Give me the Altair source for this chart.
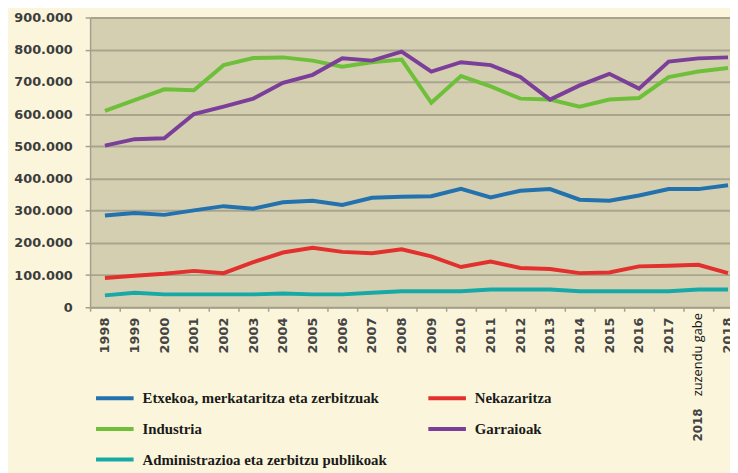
import json
import altair as alt
import pandas as pd

# ---- data ----
years = ["1998", "1999", "2000", "2001", "2002", "2003", "2004", "2005", "2006", "2007",
         "2008", "2009", "2010", "2011", "2012", "2013", "2014", "2015", "2016", "2017",
         "2018 zuzendu gabe", "2018"]
tick_labels = ["1998", "1999", "2000", "2001", "2002", "2003", "2004", "2005", "2006", "2007",
               "2008", "2009", "2010", "2011", "2012", "2013", "2014", "2015", "2016", "2017",
               "", "2018"]

etxekoa = [285000, 293000, 287000, 301000, 314000, 306000, 326000, 331000, 318000, 340000,
           343000, 345000, 368000, 341000, 362000, 367000, 334000, 331000, 347000, 367000,
           367000, 379000]
nekazaritza = [91000, 98000, 104000, 113000, 106000, 140000, 170000, 185000, 172000, 168000,
               180000, 158000, 125000, 142000, 122000, 119000, 106000, 108000, 127000, 129000,
               132000, 106000]
industria = [610000, 643000, 677000, 674000, 752000, 774000, 776000, 766000, 747000, 761000,
             769000, 635000, 718000, 686000, 648000, 645000, 623000, 645000, 650000, 715000,
             732000, 743000]
garraioak = [502000, 522000, 525000, 600000, 623000, 648000, 697000, 722000, 773000, 766000,
             794000, 732000, 761000, 752000, 715000, 645000, 689000, 725000, 679000, 763000,
             773000, 776000]
administrazioa = [37000, 45000, 40000, 40000, 40000, 40000, 43000, 40000, 40000, 45000,
                  50000, 50000, 50000, 55000, 55000, 55000, 50000, 50000, 50000, 50000,
                  55000, 55000]

# legend fills column by column: left column first, then right column
series_names = ["Etxekoa, merkataritza eta zerbitzuak", "Industria",
                "Administrazioa eta zerbitzu publikoak", "Nekazaritza", "Garraioak"]
series_values = [etxekoa, industria, administrazioa, nekazaritza, garraioak]
series_colors = ["#2372ad", "#6ec03a", "#17a9a6", "#e2302e", "#7b3f99"]

y_ticks = [0, 100000, 200000, 300000, 400000, 500000, 600000, 700000, 800000, 900000]

note_main = "zuzendu gabe"
note_year = "2018"
note_index = 20

# ---- build table ----
rows = []
for name, vals in zip(series_names, series_values):
    for i, (yr, v) in enumerate(zip(years, vals)):
        rows.append({"idx": i, "urtea": yr, "serie": name, "balioa": v})
df = pd.DataFrame(rows)
note_df = pd.DataFrame({"idx": [note_index], "t1": [note_main], "t2": [note_year]})

n = len(years)
plot_w = 647
step = 30
x_domain = [-0.5, -0.5 + plot_w / step]

x_enc = alt.X(
    "idx:Q",
    scale=alt.Scale(domain=x_domain, nice=False, zero=False),
    axis=alt.Axis(
        title=None,
        values=list(range(n)),
        labelExpr=json.dumps(tick_labels) + "[datum.value]",
        labelAngle=270,
        labelFont="DejaVu Sans",
        labelFontWeight="bold",
        labelFontSize=13,
        labelColor="#444444",
        labelPadding=6,
        tickOffset=-step / 2,
        labelOffset=step / 2,
        tickSize=4,
        tickColor="#a39f8c",
        tickWidth=1.5,
        domainColor="#a39f8c",
        domainWidth=1.5,
        grid=False,
    ),
)

lines = alt.Chart(df).mark_line(strokeWidth=4).encode(
    x=x_enc,
    y=alt.Y(
        "balioa:Q",
        scale=alt.Scale(domain=[0, 900000], nice=False, zero=True),
        axis=alt.Axis(
            title=None,
            values=y_ticks,
            labelExpr="replace(format(datum.value, ','), ',', '.')",
            labelFont="DejaVu Sans",
            labelFontWeight="bold",
            labelFontSize=13,
            labelColor="#3d3d3d",
            labelPadding=13,
            tickSize=5,
            tickColor="#a39f8c",
            tickWidth=1.5,
            domainColor="#a39f8c",
            domainWidth=1.5,
            grid=True,
            gridColor="#a9a48e",
            gridWidth=2,
        ),
    ),
    color=alt.Color(
        "serie:N",
        sort=series_names,
        scale=alt.Scale(domain=series_names, range=series_colors),
        legend=alt.Legend(
            title=None,
            orient="none",
            legendX=4,
            legendY=364,
            columns=2,
            columnPadding=33,
            rowPadding=2,
            symbolType="stroke",
            symbolSize=1444,
            symbolStrokeWidth=4,
            labelFont="Liberation Sans Narrow",
            labelFontWeight="bold",
            labelFontSize=15,
            labelColor="#1a1a1a",
            labelOffset=7,
            labelLimit=400,
            padding=0,
        ),
    ),
    detail="serie:N",
)

note1 = alt.Chart(note_df).mark_text(
    angle=270, align="center", baseline="middle", font="Open Sans", fontSize=13, color="#111111"
).encode(x=x_enc, y=alt.value(341), text="t1:N")

note2 = alt.Chart(note_df).mark_text(
    angle=270, align="center", baseline="middle", font="DejaVu Sans", fontWeight="bold",
    fontSize=12, color="#444444"
).encode(x=x_enc, y=alt.value(412), text="t2:N")

chart = (
    alt.layer(lines, note1, note2)
    .properties(
        width=plot_w,
        height=293,
        autosize=alt.AutoSizeParams(type="none"),
        padding={"left": 83, "top": 7, "right": 0, "bottom": 165},
        background="#fbf6db",
    )
    .configure_view(fill="#d5cfb2", stroke="transparent")
)

chart.save("out.html", embed_options={"renderer": "svg", "actions": False})
